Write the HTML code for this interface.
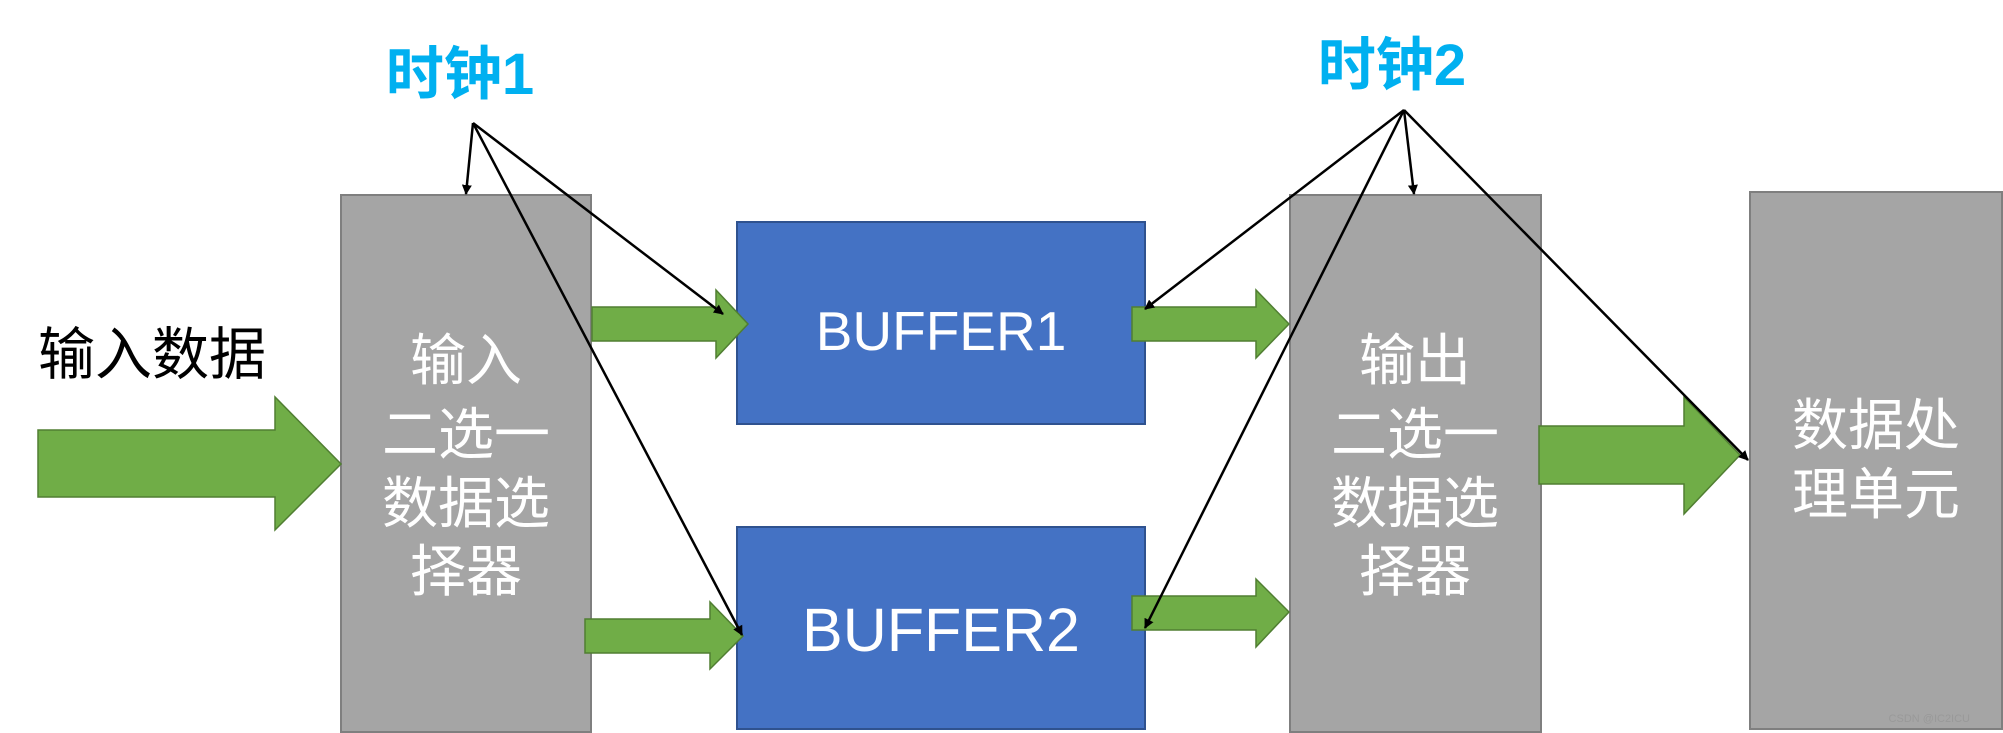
<!DOCTYPE html>
<html><head><meta charset="utf-8"><style>
html,body{margin:0;padding:0;background:#fff;}
svg{display:block;}
text{font-family:"Liberation Sans","Noto Sans CJK SC",sans-serif;}
</style></head><body>
<svg width="2003" height="733" viewBox="0 0 2003 733" xmlns="http://www.w3.org/2000/svg">
<defs>
<marker id="ah" markerWidth="10" markerHeight="10" refX="9" refY="5" orient="auto" markerUnits="userSpaceOnUse">
<path d="M0,0 L10,5 L0,10 z" fill="#000"/>
</marker>
</defs>
<!-- boxes -->
<rect x="341" y="195" width="250" height="537" fill="#a5a5a5" stroke="#7f7f7f" stroke-width="2"/>
<rect x="737" y="222" width="408" height="202" fill="#4472c4" stroke="#2f528f" stroke-width="2"/>
<rect x="737" y="527" width="408" height="202" fill="#4472c4" stroke="#2f528f" stroke-width="2"/>
<rect x="1290" y="195" width="251" height="537" fill="#a5a5a5" stroke="#7f7f7f" stroke-width="2"/>
<rect x="1750" y="192" width="252" height="537" fill="#a5a5a5" stroke="#7f7f7f" stroke-width="2"/>
<!-- green arrows -->
<g fill="#70ad47" stroke="#507e32" stroke-width="1.5">
<polygon points="38,430 275,430 275,397 341,464 275,530 275,497 38,497"/>
<polygon points="592,307 716,307 716,290 748,324 716,358 716,341 592,341"/>
<polygon points="585,619 710,619 710,602 743,636 710,669 710,653 585,653"/>
<polygon points="1132,307 1256,307 1256,290 1289,324 1256,358 1256,341 1132,341"/>
<polygon points="1132,596 1256,596 1256,579 1289,612 1256,647 1256,630 1132,630"/>
<polygon points="1539,426 1684,426 1684,397 1740,455 1684,514 1684,484 1539,484"/>
</g>
<!-- texts -->
<text x="152" y="374" font-size="57" text-anchor="middle" fill="#000">输入数据</text>
<g fill="#fff" font-size="56" text-anchor="middle">
<text x="466" y="380">输入</text>
<text x="466" y="454">二选一</text>
<text x="466" y="523">数据选</text>
<text x="466" y="591">择器</text>
<text x="1415" y="380">输出</text>
<text x="1415" y="454">二选一</text>
<text x="1415" y="523">数据选</text>
<text x="1415" y="591">择器</text>
<text x="1876" y="445">数据处</text>
<text x="1876" y="514">理单元</text>
</g>
<text x="941" y="350" font-size="55" fill="#fff" text-anchor="middle">BUFFER1</text>
<text x="941" y="651" font-size="61" fill="#fff" text-anchor="middle">BUFFER2</text>
<text x="460" y="94" font-size="58" font-weight="bold" fill="#00b0f0" text-anchor="middle">时钟1</text>
<text x="1392" y="85" font-size="58" font-weight="bold" fill="#00b0f0" text-anchor="middle">时钟2</text>
<text x="1970" y="722" font-size="11" fill="#999" text-anchor="end">CSDN @IC2ICU</text>
<!-- clock lines -->
<g stroke="#000" stroke-width="2.5" fill="none" marker-end="url(#ah)">
<line x1="473" y1="123" x2="466" y2="194"/>
<line x1="473" y1="123" x2="723" y2="314"/>
<line x1="473" y1="123" x2="742" y2="635"/>
<line x1="1404" y1="110" x2="1145" y2="309"/>
<line x1="1404" y1="110" x2="1414" y2="194"/>
<line x1="1404" y1="110" x2="1145" y2="628"/>
<line x1="1404" y1="110" x2="1748" y2="460"/>
</g>
</svg>
</body></html>
